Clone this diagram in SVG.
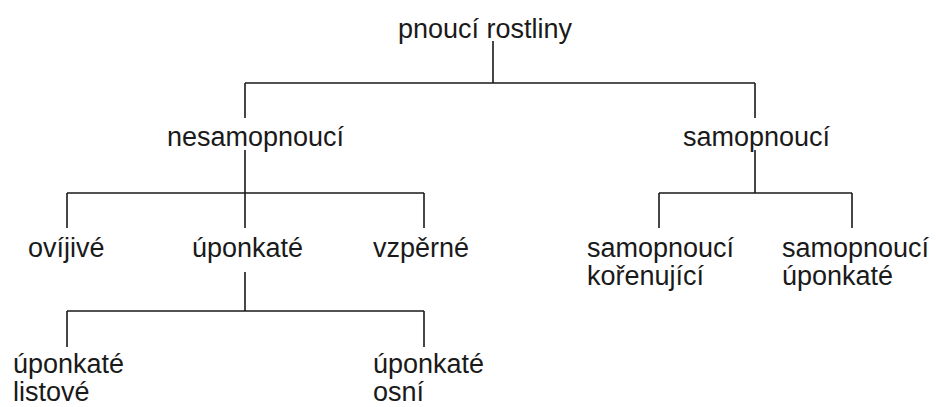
<svg xmlns="http://www.w3.org/2000/svg" width="936" height="407" viewBox="0 0 936 407">
<style>
  .t { font-family: "Liberation Sans", Arial, sans-serif; font-size: 27px; fill: #1a1a1a; }
  .c { stroke: #1a1a1a; stroke-width: 1.6; fill: none; }
</style>
<rect width="936" height="407" fill="#ffffff"/>
<g id="connectors">
  <path class="c" d="M493 41V83M245 83H755M245 83V118M755 83V118"/>
  <path class="c" d="M245 150V228M67 193H424M67 193V228M424 193V228"/>
  <path class="c" d="M245 272V311M67 311H424M67 311V347M424 311V347"/>
  <path class="c" d="M755 150V193M659 193H852M659 193V228M852 193V228"/>
</g>
<g id="root"><text class="t" x="398" y="38">pnoucí rostliny</text></g>
<g id="nesamopnouci"><text class="t" x="167" y="146">nesamopnoucí</text></g>
<g id="samopnouci"><text class="t" x="683" y="146">samopnoucí</text></g>
<g id="ovijive"><text class="t" x="28" y="257">ovíjivé</text></g>
<g id="uponkate"><text class="t" x="192" y="257">úponkaté</text></g>
<g id="vzperne"><text class="t" x="373" y="257">vzpěrné</text></g>
<g id="samopnouci-korenujici"><text class="t" x="587" y="257">samopnoucí<tspan x="587" dy="28">kořenující</tspan></text></g>
<g id="samopnouci-uponkate"><text class="t" x="782" y="257">samopnoucí<tspan x="782" dy="28">úponkaté</tspan></text></g>
<g id="uponkate-listove"><text class="t" x="13" y="373">úponkaté<tspan x="13" dy="28">listové</tspan></text></g>
<g id="uponkate-osni"><text class="t" x="373" y="373">úponkaté<tspan x="373" dy="28">osní</tspan></text></g>
</svg>
